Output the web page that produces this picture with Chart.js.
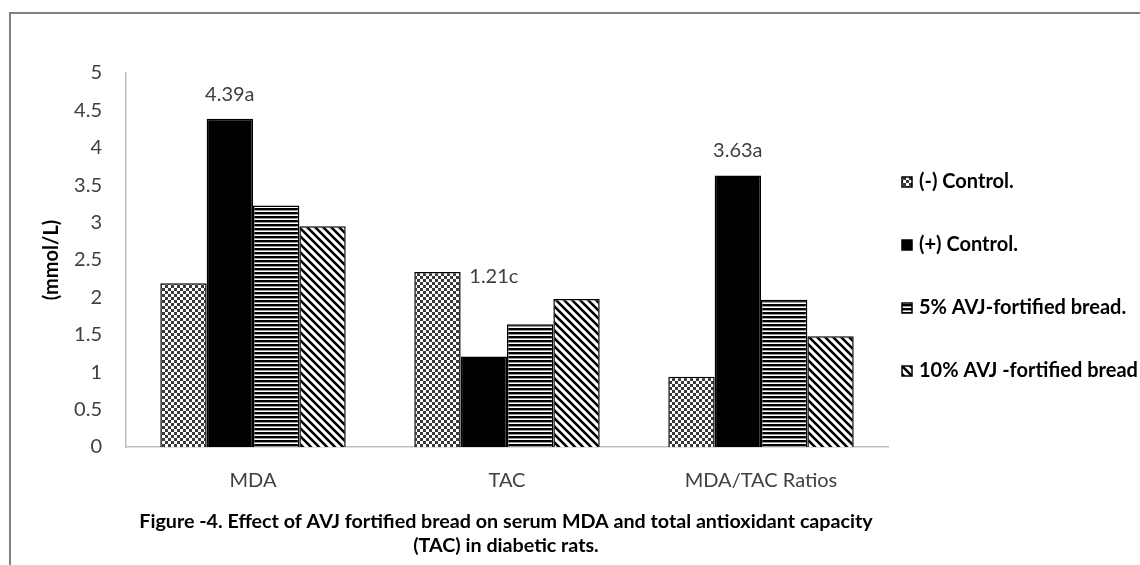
<!DOCTYPE html>
<html>
<head>
<meta charset="utf-8">
<script src="https://cdn.jsdelivr.net/npm/chart.js@4.4.1/dist/chart.umd.min.js"></script>
<style>
  html, body { margin: 0; padding: 0; background: #ffffff; overflow: hidden; }
  #wrap { position: relative; width: 1140px; height: 565px; }
  #frame { position: absolute; left: 9px; top: 12px; width: 1200px; height: 640px; border: 2px solid #808080; box-sizing: border-box; }
  #c { position: absolute; left: 0; top: 0; }
</style>
</head>
<body>
<div id="wrap">
  <div id="frame"></div>
  <canvas id="c" width="1140" height="565"></canvas>
</div>
<script>
// ---- data ----
const categories = ['MDA', 'TAC', 'MDA/TAC Ratios'];
const seriesNames = ['(-) Control.', '(+) Control.', '5% AVJ-fortified bread.', '10% AVJ -fortified bread'];
const negControl = [2.19, 2.34, 0.94];
const posControl = [4.39, 1.21, 3.63];
const avj5 = [3.23, 1.64, 1.97];
const avj10 = [2.95, 1.98, 1.48];
const yTickLabels = ['0', '0.5', '1', '1.5', '2', '2.5', '3', '3.5', '4', '4.5', '5'];
const yAxisTitle = '(mmol/L)';
const valueLabels = ['4.39a', '1.21c', '3.63a'];   // labels on the (+) Control. bars
const captionLines = ['Figure -4. Effect of AVJ fortified bread on serum MDA and total antioxidant capacity', '(TAC) in diabetic rats.'];

// ---- patterns ----
function makePattern(kind) {
  const t = document.createElement('canvas');
  const g = t.getContext('2d');
  if (kind === 'checker') {
    t.width = 6; t.height = 6;
    g.fillStyle = '#ffffff'; g.fillRect(0, 0, 6, 6);
    g.fillStyle = '#3a3a3a';
    g.fillRect(0, 0, 3, 3); g.fillRect(3, 3, 3, 3);
  } else if (kind === 'hlines') {
    t.width = 4; t.height = 4;
    g.fillStyle = '#ffffff'; g.fillRect(0, 0, 4, 4);
    g.fillStyle = '#000000'; g.fillRect(0, 0, 4, 2);
    g.fillStyle = '#9a9a9a'; g.fillRect(0, 2, 4, 1);
  } else if (kind === 'diag') {
    t.width = 8; t.height = 8;
    g.fillStyle = '#ffffff'; g.fillRect(0, 0, 8, 8);
    g.strokeStyle = '#000000'; g.lineWidth = 2.6;
    g.beginPath();
    g.moveTo(-4, -4); g.lineTo(12, 12);
    g.moveTo(-4, 4); g.lineTo(4, 12);
    g.moveTo(4, -4); g.lineTo(12, 4);
    g.stroke();
  }
  const ctx = document.getElementById('c').getContext('2d');
  return ctx.createPattern(t, 'repeat');
}
const fills = [makePattern('checker'), '#000000', makePattern('hlines'), makePattern('diag')];
const seriesValues = [negControl, posControl, avj5, avj10];

const FONT = 'Lato, "Open Sans", sans-serif';

const valueLabelPlugin = {
  id: 'valueLabels',
  afterDatasetsDraw(chart, args, opts) {
    const ctx = chart.ctx;
    const meta = chart.getDatasetMeta(1);
    ctx.save();
    ctx.font = '20px ' + FONT;
    ctx.fillStyle = '#404040';
    ctx.textAlign = 'center';
    ctx.textBaseline = 'middle';
    valueLabels.forEach((txt, i) => {
      const el = meta.data[i];
      const off = opts.offsets[i];
      ctx.fillText(txt, el.x + off[0], el.y + off[1]);
    });
    ctx.restore();
  }
};

const sideLegendPlugin = {
  id: 'sideLegend',
  afterDraw(chart, args, opts) {
    const ctx = chart.ctx;
    ctx.save();
    ctx.font = 'bold 20px ' + FONT;
    ctx.textAlign = 'left';
    ctx.textBaseline = 'middle';
    chart.data.datasets.forEach((ds, i) => {
      const y = opts.top + i * opts.step;
      ctx.fillStyle = ds.backgroundColor;
      ctx.fillRect(opts.left, y - 5, 10, 10);
      ctx.strokeStyle = '#000000';
      ctx.lineWidth = 1.5;
      ctx.strokeRect(opts.left, y - 5, 10, 10);
      ctx.fillStyle = '#000000';
      ctx.fillText(ds.label, opts.left + 17, y);
    });
    ctx.restore();
  }
};

const captionPlugin = {
  id: 'caption',
  afterDraw(chart, args, opts) {
    const ctx = chart.ctx;
    ctx.save();
    ctx.font = 'bold 19.7px ' + FONT;
    ctx.fillStyle = '#000000';
    ctx.textAlign = 'center';
    ctx.textBaseline = 'middle';
    captionLines.forEach((line, i) => {
      ctx.fillText(line, opts.x, opts.top + i * opts.step);
    });
    ctx.restore();
  }
};

new Chart(document.getElementById('c'), {
  type: 'bar',
  data: {
    labels: categories,
    datasets: seriesNames.map((name, i) => ({
      label: name,
      data: seriesValues[i],
      backgroundColor: fills[i],
      borderColor: '#000000',
      borderWidth: 1.5,
      barPercentage: 1.0,
      categoryPercentage: 0.73
    }))
  },
  options: {
    responsive: false,
    animation: false,
    devicePixelRatio: 1,
    layout: { padding: { left: 40, right: 252, top: 73, bottom: 72 } },
    scales: {
      x: {
        grid: { display: false, drawTicks: false },
        border: { display: true, color: '#bfbfbf', width: 1.5 },
        ticks: { color: '#404040', font: { family: FONT, size: 20 }, padding: 22 },
        afterFit: (s) => { s.height = 46; }
      },
      y: {
        min: 0, max: 5,
        grid: { display: false, drawTicks: false },
        border: { display: true, color: '#bfbfbf', width: 1.5 },
        ticks: {
          stepSize: 0.5,
          color: '#404040',
          font: { family: FONT, size: 20 },
          padding: 24,
          callback: (v, i) => yTickLabels[i]
        },
        title: {
          display: true, text: yAxisTitle, color: '#000000',
          font: { family: FONT, size: 20, weight: 'bold' },
          padding: { top: 0, bottom: 9 }
        },
        afterFit: (s) => { s.width = 86; }
      }
    },
    plugins: {
      legend: { display: false },
      tooltip: { enabled: false },
      title: { display: false },
      valueLabels: { offsets: [[0, -24], [10, -80], [0, -25]] },
      sideLegend: { left: 902, top: 182, step: 63 },
      caption: { x: 506, top: 522, step: 24 }
    }
  },
  plugins: [valueLabelPlugin, sideLegendPlugin, captionPlugin]
});
</script>
</body>
</html>
